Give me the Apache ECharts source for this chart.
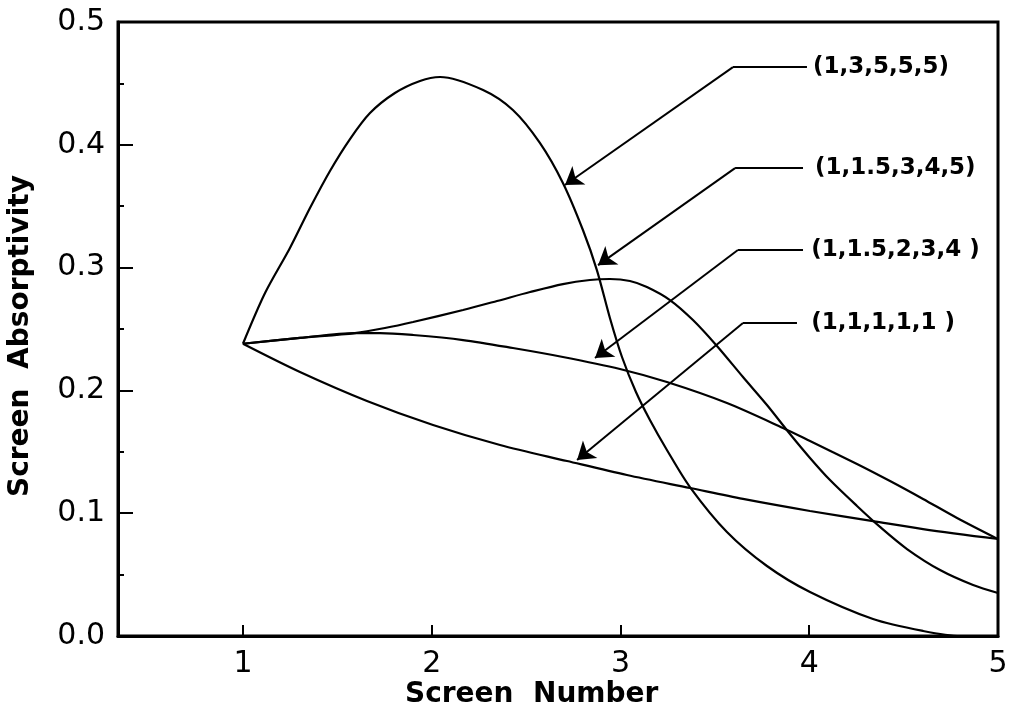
<!DOCTYPE html>
<html>
<head>
<meta charset="utf-8">
<script src="https://cdn.jsdelivr.net/npm/echarts@6/dist/echarts.min.js"></script>
<style>html,body{margin:0;padding:0;background:#fff}#c{width:1020px;height:727px}</style>
</head>
<body>
<div id="c"></div>
<script>
// ---- data ----
const xTicks = [1, 2, 3, 4, 5];

// (1,3,5,5,5)
const xA = [1.0, 1.117, 1.249, 1.355, 1.461, 1.567, 1.673, 1.805, 1.938, 2.044, 2.272, 2.43, 2.573, 2.695, 2.801, 2.875, 2.944, 3.008, 3.082, 3.156, 3.246, 3.368, 3.564, 3.776, 4.004, 4.338, 4.603, 4.799, 5.0];
const yA = [0.238, 0.2793, 0.316, 0.3485, 0.3787, 0.4047, 0.4259, 0.4422, 0.452, 0.4552, 0.4446, 0.4283, 0.4015, 0.3689, 0.3306, 0.298, 0.259, 0.2272, 0.1987, 0.1759, 0.1515, 0.1213, 0.0847, 0.057, 0.0358, 0.0138, 0.0041, 0.0, 0.0];

// (1,1.5,3,4,5)
const xB = [1.0, 1.302, 1.593, 1.752, 1.901, 2.166, 2.346, 2.521, 2.695, 2.838, 2.944, 3.05, 3.14, 3.262, 3.384, 3.511, 3.649, 3.776, 3.898, 4.004, 4.11, 4.253, 4.375, 4.518, 4.693, 4.868, 5.0];
const yB = [0.238, 0.2427, 0.2467, 0.2508, 0.2557, 0.2655, 0.2728, 0.2801, 0.2866, 0.2899, 0.2907, 0.2891, 0.2842, 0.2736, 0.2573, 0.2362, 0.2109, 0.1881, 0.1645, 0.145, 0.127, 0.1059, 0.0888, 0.0708, 0.0537, 0.0415, 0.035];

// (1,1.5,2,3,4)
const xC = [1.0, 1.302, 1.593, 1.726, 1.901, 2.166, 2.43, 2.695, 2.997, 3.246, 3.564, 3.861, 4.004, 4.253, 4.428, 4.603, 4.783, 5.0];
const yC = [0.238, 0.2427, 0.2467, 0.2467, 0.2451, 0.241, 0.2345, 0.2272, 0.2174, 0.2068, 0.1897, 0.1694, 0.1588, 0.1401, 0.1262, 0.1116, 0.0961, 0.0789];

// (1,1,1,1,1)
const xD = [1.0, 1.302, 1.657, 2.007, 2.362, 2.717, 3.034, 3.368, 3.649, 4.004, 4.338, 4.603, 5.0];
const yD = [0.238, 0.215, 0.1914, 0.1718, 0.1555, 0.1425, 0.1311, 0.1205, 0.1116, 0.1018, 0.0936, 0.0871, 0.079];

// annotation labels and leader lines (data coordinates)
const annoLabels = ['(1,3,5,5,5)', '(1,1.5,3,4,5)', '(1,1.5,2,3,4 )', '(1,1,1,1,1 )'];
const annoLabelX = [4.02, 4.03, 4.01, 4.01];
const annoY = [0.4633, 0.381, 0.3143, 0.2549];
const annoEndX = [3.988, 3.967, 3.967, 3.935];
const annoCornerX = [3.596, 3.607, 3.622, 3.649];
const annoTipX = [2.706, 2.881, 2.865, 2.770];
const annoTipY = [0.3673, 0.302, 0.2264, 0.1433];

// ---- chart ----
const zip = (xs, ys) => xs.map((x, i) => [x, ys[i]]);
const font = 'DejaVu Sans';
const black = '#000';

function curve(name, xs, ys) {
  return {
    name, type: 'line', data: zip(xs, ys), showSymbol: false, symbol: 'none',
    smooth: 0.3,
    lineStyle: { color: black, width: 2.2 }, silent: true
  };
}

const horiz = annoY.map((y, i) => ({ coords: [[annoEndX[i], y], [annoCornerX[i], y]] }));
const diag = annoY.map((y, i) => ({ coords: [[annoCornerX[i], y], [annoTipX[i], annoTipY[i]]] }));

const option = {
  animation: false,
  backgroundColor: '#fff',
  grid: { left: 118, right: 22, top: 22, bottom: 91, show: true, borderColor: black, borderWidth: 3, backgroundColor: 'transparent' },
  xAxis: {
    type: 'value', min: 0.338, max: 5,
    axisLine: { onZero: false, lineStyle: { color: black, width: 3 } },
    axisTick: { inside: true, length: 11, customValues: xTicks, lineStyle: { color: black, width: 2 } },
    axisLabel: { customValues: xTicks, color: black, fontSize: 30, fontFamily: font, margin: 13, formatter: v => String(Math.round(v)) },
    splitLine: { show: false }
  },
  yAxis: {
    type: 'value', min: 0, max: 0.5, interval: 0.1,
    axisLine: { onZero: false, lineStyle: { color: black, width: 3 } },
    axisTick: { inside: true, length: 15, lineStyle: { color: black, width: 2 } },
    minorTick: { show: true, splitNumber: 2, length: 6, lineStyle: { color: black, width: 2 } },
    axisLabel: { color: black, fontSize: 30, fontFamily: font, margin: 13, formatter: v => v.toFixed(1) },
    splitLine: { show: false }
  },
  series: [
    curve('(1,3,5,5,5)', xA, yA),
    curve('(1,1.5,3,4,5)', xB, yB),
    curve('(1,1.5,2,3,4)', xC, yC),
    curve('(1,1,1,1,1)', xD, yD),
    {
      type: 'lines', coordinateSystem: 'cartesian2d', silent: true,
      symbol: ['none', 'none'],
      lineStyle: { color: black, width: 2, opacity: 1, curveness: 0 },
      data: horiz
    },
    {
      type: 'lines', coordinateSystem: 'cartesian2d', silent: true,
      symbol: ['none', 'arrow'], symbolSize: [9, 17],
      lineStyle: { color: black, width: 2, opacity: 1, curveness: 0 },
      itemStyle: { color: black },
      data: diag
    }
  ]
};

const chart = echarts.init(document.getElementById('c'), null, { renderer: 'canvas' });
chart.setOption(option);

// text: axis titles and annotation labels (positioned through the axes)
const texts = [
  { type: 'text', left: 405, top: 681, style: { text: 'Screen  Number', fill: black, font: '600 28px "DejaVu Sans"' } },
  { type: 'text', x: 21, y: 336, rotation: Math.PI / 2, style: { text: 'Screen  Absorptivity', fill: black, font: '600 28px "DejaVu Sans"', textAlign: 'center', textVerticalAlign: 'middle' } }
];
annoLabels.forEach((t, i) => {
  const p = chart.convertToPixel({ gridIndex: 0 }, [annoLabelX[i], annoY[i]]);
  texts.push({ type: 'text', x: p[0], y: p[1], silent: true,
    style: { text: t, fill: black, font: 'bold 23px "DejaVu Sans"', textAlign: 'left', textVerticalAlign: 'middle' } });
});
chart.setOption({ graphic: texts });
</script>
</body>
</html>
